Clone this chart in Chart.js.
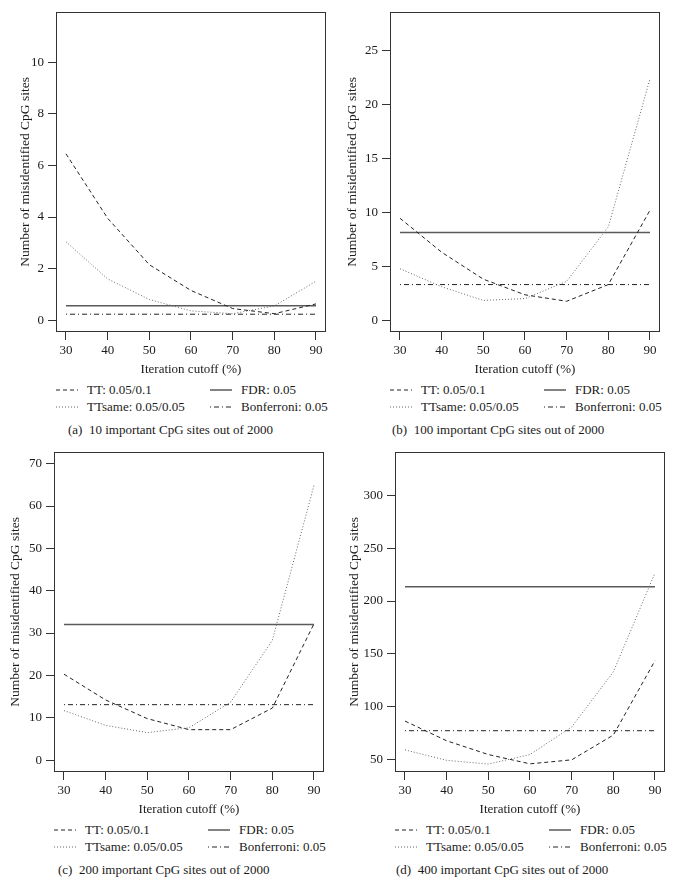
<!DOCTYPE html>
<html>
<head>
<meta charset="utf-8">
<script src="https://cdn.jsdelivr.net/npm/chart.js@4/dist/chart.umd.min.js"></script>
<style>
body { margin: 0; background: #fff; width: 674px; height: 885px; position: relative; overflow: hidden; font-family: "Liberation Serif", serif; color: #1a1a1a; }
canvas { position: absolute; }
.txt { position: absolute; font-size: 13px; line-height: 16px; white-space: nowrap; }
svg.smp { position: absolute; overflow: visible; }
</style>
</head>
<body>
<script>
var cutoffs = [30, 40, 50, 60, 70, 80, 90];
var xTicks = [30, 40, 50, 60, 70, 80, 90];

// (a) 10 important CpG sites
var ttA = [6.45, 3.95, 2.15, 1.15, 0.45, 0.25, 0.63];
var sameA = [3.04, 1.6, 0.8, 0.36, 0.25, 0.55, 1.51];
var fdrA = 0.56;
var bonfA = 0.23;
var yTicksA = [0, 2, 4, 6, 8, 10];

// (b) 100 important CpG sites
var ttB = [9.45, 6.3, 3.8, 2.35, 1.75, 3.3, 10.2];
var sameB = [4.77, 3.1, 1.83, 2.0, 3.6, 8.65, 22.4];
var fdrB = 8.12;
var bonfB = 3.3;
var yTicksB = [0, 5, 10, 15, 20, 25];

// (c) 200 important CpG sites
var ttC = [20.3, 14.2, 9.8, 7.2, 7.2, 12.3, 32.2];
var sameC = [11.7, 8.2, 6.5, 7.65, 13.7, 28.3, 64.9];
var fdrC = 32.0;
var bonfC = 13.1;
var yTicksC = [0, 10, 20, 30, 40, 50, 60, 70];

// (d) 400 important CpG sites
var ttD = [86.6, 68, 55, 46.2, 50, 73.4, 143.7];
var sameD = [59.4, 49.5, 46, 55, 81, 133, 226.6];
var fdrD = 213.4;
var bonfD = 77.5;
var yTicksD = [50, 100, 150, 200, 250, 300];

var FONT = '"Liberation Serif", serif';
var W = 337, H = 380;

var panels = [
    {left: 0, top: 0, box: {l: 56, r: 326, t: 8, b: 332}, yMin: -0.46, yMax: 11.96,
        tt: ttA, same: sameA, fdr: fdrA, bonf: bonfA, yTicks: yTicksA, yTitlePad: 17,
        caption: '(a)\u00a0 10 important CpG sites out of 2000', capX: 12, legY: 390, capY: 430},
    {left: 337, top: 0, box: {l: 53, r: 323, t: 8, b: 332}, yMin: -1.1, yMax: 28.6,
        tt: ttB, same: sameB, fdr: fdrB, bonf: bonfB, yTicks: yTicksB, yTitlePad: 7,
        caption: '(b)\u00a0 100 important CpG sites out of 2000', capX: 2, legY: 390, capY: 430},
    {left: 0, top: 440, box: {l: 54, r: 324, t: 9, b: 332}, yMin: -2.8, yMax: 72.8,
        tt: ttC, same: sameC, fdr: fdrC, bonf: bonfC, yTicks: yTicksC, yTitlePad: 7,
        caption: '(c)\u00a0 200 important CpG sites out of 2000', capX: 4, legY: 390, capY: 430},
    {left: 337, top: 440, box: {l: 58, r: 328, t: 9, b: 332}, yMin: 38.5, yMax: 341,
        tt: ttD, same: sameD, fdr: fdrD, bonf: bonfD, yTicks: yTicksD, yTitlePad: 9,
        caption: '(d)\u00a0 400 important CpG sites out of 2000', capX: 1, legY: 390, capY: 430}
];

var styles = {
    tt: {color: '#222', dash: [4, 3], width: 1},
    same: {color: '#666', dash: [1, 2], width: 1},
    fdr: {color: '#5a5a5a', dash: [], width: 1.5},
    bonf: {color: '#222', dash: [1, 3, 5, 3], width: 1}
};

var boxPlugin = {
    id: 'plotBox',
    afterDraw: function (chart) {
        var a = chart.chartArea;
        var ctx = chart.ctx;
        ctx.save();
        ctx.strokeStyle = '#333';
        ctx.lineWidth = 1;
        ctx.strokeRect(Math.round(a.left) + 0.5, Math.round(a.top) + 0.5,
            Math.round(a.right - a.left) - 1, Math.round(a.bottom - a.top) - 1);
        ctx.restore();
    }
};

function toPoints(xs, ys) {
    return xs.map(function (x, i) { return {x: x, y: ys[i]}; });
}

function flat(v) {
    return [{x: cutoffs[0], y: v}, {x: cutoffs[cutoffs.length - 1], y: v}];
}

function dataset(label, pts, st) {
    return {label: label, data: pts, borderColor: st.color, borderDash: st.dash,
        borderWidth: st.width, pointRadius: 0, tension: 0, fill: false};
}

function addText(x, y, str) {
    var d = document.createElement('div');
    d.className = 'txt';
    d.style.left = x + 'px';
    d.style.top = (y - 8) + 'px';
    d.textContent = str;
    document.body.appendChild(d);
}

function addSample(x, y, st) {
    var ns = 'http://www.w3.org/2000/svg';
    var svg = document.createElementNS(ns, 'svg');
    svg.setAttribute('class', 'smp');
    svg.setAttribute('width', 22);
    svg.setAttribute('height', 4);
    svg.style.left = x + 'px';
    svg.style.top = (y - 2) + 'px';
    var ln = document.createElementNS(ns, 'line');
    ln.setAttribute('x1', 0);
    ln.setAttribute('x2', 22);
    ln.setAttribute('y1', 2);
    ln.setAttribute('y2', 2);
    ln.setAttribute('stroke', st.color);
    ln.setAttribute('stroke-width', st.width);
    if (st.dash.length) ln.setAttribute('stroke-dasharray', st.dash.join(' '));
    svg.appendChild(ln);
    document.body.appendChild(svg);
}

function drawPanel(p) {
    var cv = document.createElement('canvas');
    cv.width = W;
    cv.height = H;
    cv.style.left = p.left + 'px';
    cv.style.top = p.top + 'px';
    document.body.appendChild(cv);

    var box = p.box;
    new Chart(cv, {
        type: 'line',
        data: {
            datasets: [
                dataset('TT: 0.05/0.1', toPoints(cutoffs, p.tt), styles.tt),
                dataset('TTsame: 0.05/0.05', toPoints(cutoffs, p.same), styles.same),
                dataset('FDR: 0.05', flat(p.fdr), styles.fdr),
                dataset('Bonferroni: 0.05', flat(p.bonf), styles.bonf)
            ]
        },
        options: {
            responsive: false,
            animation: false,
            layout: {padding: {left: 0, top: box.t, right: W - box.r, bottom: 0}},
            plugins: {legend: {display: false}, tooltip: {enabled: false}},
            scales: {
                x: {
                    type: 'linear', min: 27.6, max: 92.4,
                    afterBuildTicks: function (s) { s.ticks = xTicks.map(function (v) { return {value: v}; }); },
                    afterFit: function (s) { s.height = H - box.b; },
                    grid: {drawOnChartArea: false, tickLength: 8, color: '#333'},
                    border: {display: false},
                    ticks: {color: '#1a1a1a', autoSkip: false, maxRotation: 0, padding: 3, font: {family: FONT, size: 13}},
                    title: {display: true, text: 'Iteration cutoff (%)', color: '#1a1a1a',
                        font: {family: FONT, size: 13}, padding: {top: 0, bottom: 3}}
                },
                y: {
                    min: p.yMin, max: p.yMax,
                    afterBuildTicks: function (s) { s.ticks = p.yTicks.map(function (v) { return {value: v}; }); },
                    afterFit: function (s) { s.width = box.l; },
                    grid: {drawOnChartArea: false, tickLength: 8, color: '#333'},
                    border: {display: false},
                    ticks: {color: '#1a1a1a', autoSkip: false, padding: 4, font: {family: FONT, size: 13}},
                    title: {display: true, text: 'Number of misidentified CpG sites', color: '#1a1a1a',
                        font: {family: FONT, size: 13.5}, padding: {top: p.yTitlePad, bottom: 0}}
                }
            }
        },
        plugins: [boxPlugin]
    });

    var lx = p.left + box.l;
    var r1 = p.top + p.legY, r2 = r1 + 17;
    addSample(lx, r1, styles.tt);
    addText(lx + 31, r1, 'TT: 0.05/0.1');
    addSample(lx + 154, r1, styles.fdr);
    addText(lx + 185, r1, 'FDR: 0.05');
    addSample(lx, r2, styles.same);
    addText(lx + 31, r2, 'TTsame: 0.05/0.05');
    addSample(lx + 154, r2, styles.bonf);
    addText(lx + 185, r2, 'Bonferroni: 0.05');
    addText(lx + p.capX, p.top + p.capY, p.caption);
}

panels.forEach(drawPanel);
</script>
</body>
</html>
